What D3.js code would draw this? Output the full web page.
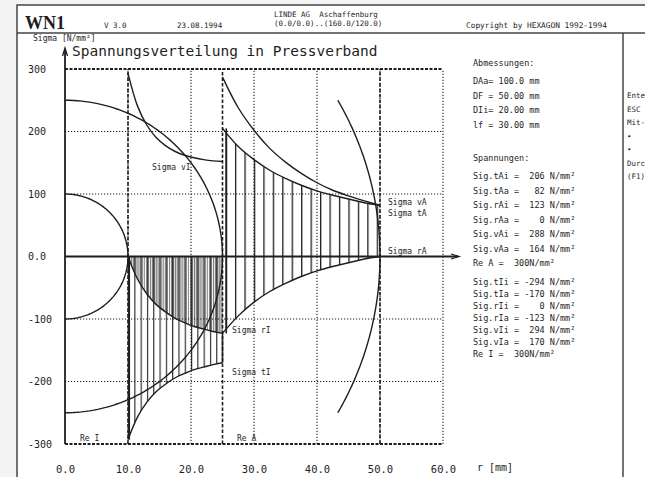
<!DOCTYPE html>
<html><head><meta charset="utf-8">
<script src="https://cdn.jsdelivr.net/npm/d3@7"></script>
<style>
html,body{margin:0;padding:0;background:#fff;}
svg{display:block;}
text{font-family:"DejaVu Sans Mono","Liberation Mono",monospace;fill:#1e1e1e;white-space:pre;}
</style></head><body>
<svg id="c" width="645" height="477"></svg>
<script>
// ---- data ----
const rA   = [25, 27.5, 30, 32.5, 35, 37.5, 40, 42.5, 45, 47.5, 50];
const sigTA = [205, 176, 155, 138, 125, 114, 105, 98, 92, 86, 82];
const sigRA = [-123, -95, -73, -56, -43, -32, -23, -16, -10, -4, 0];
const sigVA = [287, 238, 202, 173, 151, 133, 118, 106, 97, 89, 82];
const rI   = [10, 11.5, 13, 14.5, 16, 17.5, 19, 20.5, 22, 23.5, 25];
const sigTI = [-293, -257, -233, -216, -204, -194, -187, -181, -177, -173, -170];
const sigRI = [0, -36, -60, -77, -89, -99, -106, -112, -116, -120, -123];
const sigVI = [293, 241, 210, 190, 177, 168, 162, 158, 155, 153, 152];
const radii = [10, 25, 50];           // part outlines (mm)
const outlineLimit = 250;             // outlines drawn up to |250|
const yTicks = [300, 200, 100, 0, -100, -200, -300];
const yTickLabels = ["300", "200", "100", "0.0", "-100", "-200", "-300"];
const xTicks = [0, 10, 20, 30, 40, 50, 60];
const xTickLabels = ["0.0", "10.0", "20.0", "30.0", "40.0", "50.0", "60.0"];
const dashedX = [10, 25, 50];
const hatchStepA = 1.5, hatchStepI = 1.0;
const panelTop = ["Abmessungen:", "DAa= 100.0 mm", "DF = 50.00 mm", "DIi= 20.00 mm", "lf = 30.00 mm"];
const panelA = ["Sig.tAi =  206 N/mm²", "Sig.tAa =   82 N/mm²", "Sig.rAi =  123 N/mm²", "Sig.rAa =    0 N/mm²", "Sig.vAi =  288 N/mm²", "Sig.vAa =  164 N/mm²", "Re A =  300N/mm²"];
const panelI = ["Sig.tIi = -294 N/mm²", "Sig.tIa = -170 N/mm²", "Sig.rIi =    0 N/mm²", "Sig.rIa = -123 N/mm²", "Sig.vIi =  294 N/mm²", "Sig.vIa =  170 N/mm²", "Re I =  300N/mm²"];
const sideText = ["Ente", "ESC", "Mit-", "•", "•", "Durc", "(F1)"];

const INK = "#1e1e1e";
const svg = d3.select("#c");
const x = d3.scaleLinear().domain([0, 60]).range([65, 443]);
const y = d3.scaleLinear().domain([-300, 300]).range([444, 69]);

// ---- frame & header ----
svg.append("rect").attr("x", 0).attr("y", 0).attr("width", 645).attr("height", 477).attr("fill", "#f4f4f4");
svg.append("rect").attr("x", 17).attr("y", 5).attr("width", 640).attr("height", 480).attr("fill", "#fff")
  .attr("stroke", "#444").attr("stroke-width", 1.5);
svg.append("line").attr("x1", 17).attr("x2", 645).attr("y1", 33).attr("y2", 33).attr("stroke", "#444").attr("stroke-width", 1.5);
svg.append("line").attr("x1", 623).attr("x2", 623).attr("y1", 33).attr("y2", 477).attr("stroke", "#444").attr("stroke-width", 1.5);
svg.append("text").attr("x", 25).attr("y", 29).style("font-family", "'Liberation Serif',serif").style("font-weight", "bold").style("font-size", "18px").text("WN1");
svg.append("text").attr("x", 104).attr("y", 28).style("font-size", "7.5px").text("V 3.0");
svg.append("text").attr("x", 177).attr("y", 28).style("font-size", "7.5px").text("23.08.1994");
svg.append("text").attr("x", 274).attr("y", 17).style("font-size", "7.5px").text("LINDE AG  Aschaffenburg");
svg.append("text").attr("x", 274).attr("y", 26).style("font-size", "7.5px").text("(0.0/0.0)..(160.0/120.0)");
svg.append("text").attr("x", 466).attr("y", 28).style("font-size", "7.8px").text("Copyright by HEXAGON 1992-1994");

// ---- defs: hatch patterns ----
const defs = svg.append("defs");
function hatch(id, x0, step, w) {
  const p = defs.append("pattern").attr("id", id).attr("patternUnits", "userSpaceOnUse")
    .attr("x", x0).attr("y", 0).attr("width", x(step) - x(0)).attr("height", 20);
  p.append("line").attr("x1", 0.6).attr("x2", 0.6).attr("y1", 0).attr("y2", 20).attr("stroke", INK).attr("stroke-width", w);
}
hatch("hA", x(rA[0]) + 3, hatchStepA, 1.4);
hatch("hI", x(rI[0]), hatchStepI, 1.1);
hatch("hI2", x(rI[0]) + 1, hatchStepI / 3, 0.9);

// ---- grid ----
const g = svg.append("g");
[100, 200, -100, -200].forEach(v => g.append("line").attr("x1", x(0)).attr("x2", x(60)).attr("y1", y(v)).attr("y2", y(v))
  .attr("stroke", INK).attr("stroke-width", 1.1).attr("stroke-dasharray", "1.2,1.8"));
[300, -300].forEach(v => g.append("line").attr("x1", x(0)).attr("x2", x(60)).attr("y1", y(v)).attr("y2", y(v))
  .attr("stroke", INK).attr("stroke-width", 1.8).attr("stroke-dasharray", "3,1.5"));
xTicks.filter(t => t > 0).forEach(t => g.append("line").attr("x1", x(t)).attr("x2", x(t)).attr("y1", y(-300)).attr("y2", y(300))
  .attr("stroke", INK).attr("stroke-width", 1.1).attr("stroke-dasharray", "1.2,1.8"));
dashedX.forEach(t => g.append("line").attr("x1", x(t)).attr("x2", x(t)).attr("y1", y(-300)).attr("y2", y(300))
  .attr("stroke", INK).attr("stroke-width", 1.6).attr("stroke-dasharray", "3.5,2"));

// ---- hatched areas ----
const ptsA = rA.map((r, i) => ({r, t: sigTA[i], s: sigRA[i]}));
const ptsI = rI.map((r, i) => ({r, t: sigTI[i], s: sigRI[i]}));
const cv = d3.curveCatmullRom;
svg.append("path").attr("d", d3.area().curve(cv).x(d => x(d.r)).y0(d => y(d.s)).y1(d => y(d.t))(ptsA)).attr("fill", "url(#hA)");
svg.append("path").attr("d", d3.area().curve(cv).x(d => x(d.r)).y0(y(0)).y1(d => y(d.t))(ptsI)).attr("fill", "url(#hI)");
svg.append("path").attr("d", d3.area().curve(cv).x(d => x(d.r)).y0(y(0)).y1(d => y(d.s))(ptsI)).attr("fill", "url(#hI2)").attr("opacity", 0.75);

// ---- curves ----
const line = d3.line().curve(cv).x(d => x(d[0])).y(d => y(d[1]));
const series = [[rA, sigTA], [rA, sigRA], [rA, sigVA], [rI, sigTI], [rI, sigRI], [rI, sigVI]];
series.forEach(([xs, ys]) => svg.append("path").attr("d", line(xs.map((r, i) => [r, ys[i]])))
  .attr("fill", "none").attr("stroke", INK).attr("stroke-width", 1.4));
// edges of hatched zones
const edge = (r, a, b) => svg.append("line").attr("x1", x(r)).attr("x2", x(r)).attr("y1", y(a)).attr("y2", y(b)).attr("stroke", INK).attr("stroke-width", 1.6);
edge(rA[0] + 0.6, sigRA[0], sigTA[0]);
edge(rI[rI.length - 1], sigRI[sigRI.length - 1], sigTI[sigTI.length - 1]);
edge(rI[0] + 0.2, sigRI[0], sigTI[0]);

// ---- part outlines (circles) ----
radii.forEach(R => {
  const lim = Math.asin(Math.min(1, outlineLimit / (10 * R)));
  const pts = d3.range(0, 121).map(k => {
    const th = -lim + 2 * lim * k / 120;
    return [R * Math.cos(th), 10 * R * Math.sin(th)];
  });
  svg.append("path").attr("d", d3.line().x(d => x(d[0])).y(d => y(d[1]))(pts))
    .attr("fill", "none").attr("stroke", INK).attr("stroke-width", 1.4);
});

// ---- axes ----
svg.append("line").attr("x1", x(0)).attr("x2", x(0)).attr("y1", y(-300)).attr("y2", 50).attr("stroke", INK).attr("stroke-width", 1.8);
svg.append("path").attr("d", `M${x(0) - 2.5},${56} L${x(0)},${48} L${x(0) + 2.5},${56}`).attr("fill", "none").attr("stroke", INK).attr("stroke-width", 1.3);
svg.append("line").attr("x1", x(0)).attr("x2", 458).attr("y1", y(0)).attr("y2", y(0)).attr("stroke", INK).attr("stroke-width", 1.8);
svg.append("path").attr("d", `M${451},${y(0) - 2.5} L${459},${y(0)} L${451},${y(0) + 2.5}`).attr("fill", "none").attr("stroke", INK).attr("stroke-width", 1.3);

const xa = svg.append("g").attr("transform", `translate(0,${463})`)
  .call(d3.axisBottom(x).tickValues(xTicks).tickSize(0).tickFormat((d, i) => xTickLabels[i]));
xa.select(".domain").remove();
xa.selectAll("text").attr("fill", INK).style("font-family", "'DejaVu Sans Mono',monospace").style("font-size", "10.5px");
svg.append("text").attr("x", 477).attr("y", 471).style("font-size", "10px").text("r [mm]");
yTicks.forEach((t, i) => svg.append("text").attr("x", 28).attr("y", y(t) + 3.5).style("font-size", "10px").text(yTickLabels[i]));

// ---- titles & labels ----
svg.append("text").attr("x", 33).attr("y", 41).style("font-size", "8px").text("Sigma [N/mm²]");
svg.append("text").attr("x", 72).attr("y", 56).style("font-size", "14.5px").text("Spannungsverteilung in Pressverband");
const lab = (t, xx, yy) => svg.append("text").attr("x", xx).attr("y", yy).style("font-size", "8px").text(t);
lab("Sigma vI", 152, 170);
lab("Sigma vA", 388, 205);
lab("Sigma tA", 388, 216);
lab("Sigma rA", 388, 254);
lab("Sigma rI", 232, 333);
lab("Sigma tI", 232, 375);
lab("Re I", 80, 441);
lab("Re A", 237, 441);

// ---- text panel ----
panelTop.forEach((t, i) => svg.append("text").attr("x", 473).attr("y", (i === 0 ? 66 : 84 + (i - 1) * 14.5)).style("font-size", "8.5px").text(t));
svg.append("text").attr("x", 473).attr("y", 161).style("font-size", "8.5px").text("Spannungen:");
panelA.forEach((t, i) => svg.append("text").attr("x", 473).attr("y", 179 + i * 14.5).style("font-size", "8.5px").text(t));
panelI.forEach((t, i) => svg.append("text").attr("x", 473).attr("y", 285 + i * 12).style("font-size", "8.5px").text(t));
sideText.forEach((t, i) => svg.append("text").attr("x", 627).attr("y", 98 + i * 13.5).style("font-size", "7.5px").text(t));
</script>
</body></html>
